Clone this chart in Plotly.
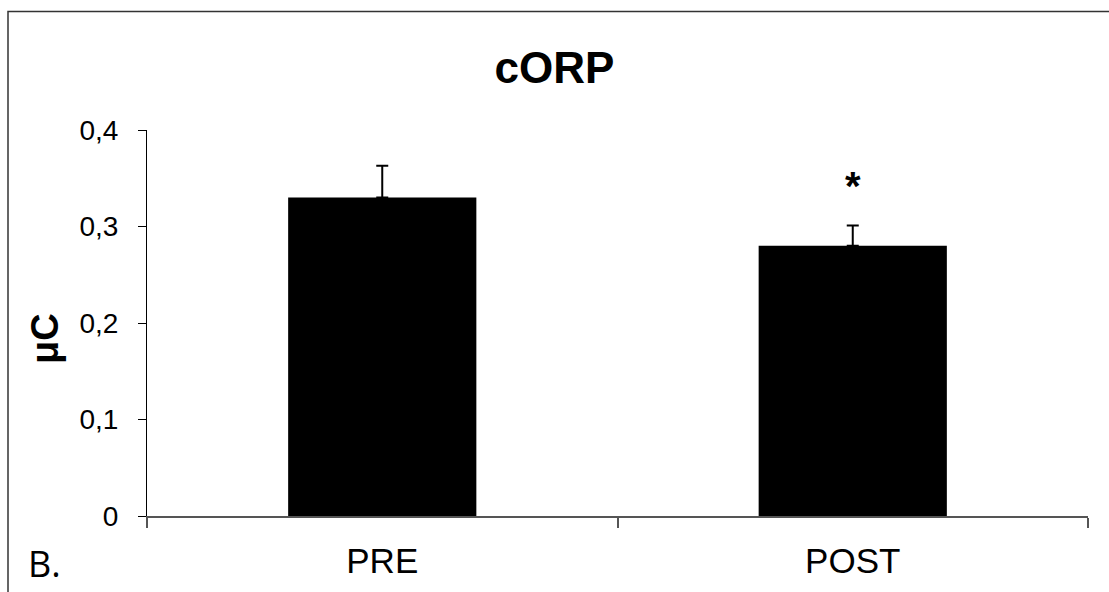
import plotly.graph_objects as go

categories = ["PRE", "POST"]
values = [0.33, 0.28]
errors_up = [0.033, 0.021]
errors_down = [0, 0]
y_ticks = [0, 0.1, 0.2, 0.3, 0.4]
title_text = "cORP"
y_title = "μC"
panel_label = "B."
sig_mark = "*"

W, H = 1109, 592
L, R, T, B = 147, 21, 130, 74
pw = W - L - R
ph = H - T - B

def px_to_paper_x(px):
    return (px - L) / pw

def px_to_paper_y(py):
    return (H - B - py) / ph

fig = go.Figure()
fig.add_trace(go.Bar(
    x=categories, y=values,
    marker=dict(color="black", line=dict(width=0)),
    error_y=dict(type="data", symmetric=False, array=errors_up, arrayminus=errors_down,
                 color="black", thickness=2, width=6),
))

font = "Liberation Sans, Arial, sans-serif"
fig.update_layout(
    width=W, height=H,
    margin=dict(l=L, r=R, t=T, b=B, pad=0),
    plot_bgcolor="white", paper_bgcolor="white",
    separators=",.",
    bargap=0.6,
    showlegend=False,
    font=dict(family=font, color="black"),
    title=dict(text="<b>%s</b>" % title_text, x=0.5, xref="container", xanchor="center",
               y=1 - 68 / H, yref="container", yanchor="middle",
               font=dict(size=44, family=font, color="black")),
)
fig.update_xaxes(
    showline=True, linecolor="#555", linewidth=1.5,
    ticks="outside", tickson="boundaries", ticklen=10, tickcolor="#555", tickwidth=1.5,
    tickfont=dict(size=35, family=font, color="black"),
    ticklabelstandoff=13,
    showgrid=False, zeroline=False,
)
fig.update_yaxes(
    range=[0, 0.4], tickvals=y_ticks,
    showline=True, linecolor="black", linewidth=1,
    ticks="outside", ticklen=8, tickcolor="black", tickwidth=1,
    tickfont=dict(size=28, family=font, color="black"),
    ticklabelstandoff=14,
    showgrid=False, zeroline=False,
)

fig.add_annotation(text="<b>%s</b>" % y_title, xref="paper", yref="paper",
                   x=px_to_paper_x(45), y=px_to_paper_y(340), textangle=-90,
                   showarrow=False, xanchor="center", yanchor="middle",
                   font=dict(size=38, family=font, color="black"))
fig.add_annotation(text=panel_label, xref="paper", yref="paper",
                   x=px_to_paper_x(26), y=px_to_paper_y(566),
                   showarrow=False, xanchor="left", yanchor="middle",
                   font=dict(size=36, family="Open Sans, Noto Sans, sans-serif", color="black"))
fig.add_annotation(text="<b>%s</b>" % sig_mark, x=categories[1], y=values[1] + errors_up[1],
                   xref="x", yref="y", showarrow=False, yanchor="bottom", yshift=16,
                   font=dict(size=40, family=font, color="black"))

fig.add_shape(type="rect", xref="paper", yref="paper",
              x0=px_to_paper_x(8), x1=px_to_paper_x(1200),
              y0=px_to_paper_y(700), y1=px_to_paper_y(11),
              line=dict(color="#333", width=1.5), fillcolor="rgba(0,0,0,0)", layer="below")

fig.write_html("out.html")
